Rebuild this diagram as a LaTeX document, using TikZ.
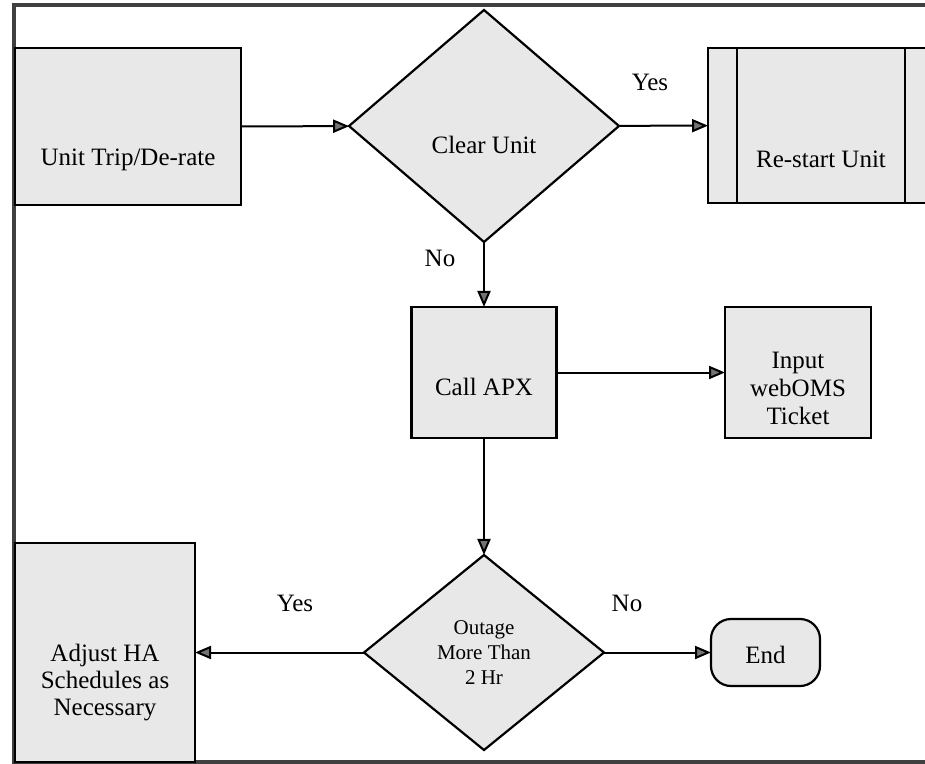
\documentclass[tikz,border=0pt]{standalone}
\usepackage{fontspec}
\setmainfont{Liberation Serif}
\usetikzlibrary{shapes.geometric,arrows.meta}
\tikzset{
  shapebox/.style={draw=black, line width=1.1pt, fill=black!9, inner sep=0pt, outer sep=0pt},
  procbox/.style={shapebox, rectangle},
  decbox/.style={shapebox, diamond},
  termbox/.style={shapebox, rectangle, rounded corners=10pt},
  txt/.style={font=\fontsize{12.5}{14}\selectfont, align=center, inner sep=0pt},
  smalltxt/.style={font=\fontsize{10.5}{12.5}\selectfont, align=center, inner sep=0pt},
  flow/.style={draw=black, line width=1pt, -{Triangle[length=8pt,width=6.5pt,fill=black!55]}},
  framebox/.style={draw=black!75, line width=1.8pt},
  edgelbl/.style={font=\fontsize{12.5}{14}\selectfont, inner sep=0pt}
}
\begin{document}
\begin{tikzpicture}[x=0.5pt,y=-0.5pt]
\useasboundingbox (0,0) rectangle (925,764);
\clip (0,0) rectangle (925,764);
\fill[white] (0,0) rectangle (925,764);
\draw[framebox] (14,5) rectangle (980,762);

\node[procbox, minimum width=113pt, minimum height=78.5pt,
  label={[txt,yshift=-16.5pt]center:Unit Trip/De-rate}] (trip) at (128,126.5) {};
\node[decbox, minimum width=135pt, minimum height=116pt,
  label={[txt,yshift=-9.5pt]center:Clear Unit}] (d1) at (484,126) {};
\node[procbox, minimum width=113pt, minimum height=77.5pt,
  label={[txt,yshift=-17pt]center:Re-start Unit}] (restart) at (821,125.5) {};
\draw[line width=1.1pt] ([xshift=14.5pt]restart.north west) -- ([xshift=14.5pt]restart.south west);
\draw[line width=1.1pt] ([xshift=-14.5pt]restart.north east) -- ([xshift=-14.5pt]restart.south east);
\node[procbox, minimum width=72.5pt, minimum height=65.5pt,
  label={[txt,yshift=-7pt]center:Call APX}] (apx) at (484,372.5) {};
\node[procbox, minimum width=73pt, minimum height=65.5pt,
  label={[txt,yshift=-8pt]center:Input\\webOMS\\Ticket}] (input) at (798,372.5) {};
\node[decbox, minimum width=120pt, minimum height=97.5pt,
  label={[smalltxt]center:Outage\\More Than\\2 Hr}] (d2) at (484,652.5) {};
\node[procbox, minimum width=90pt, minimum height=109.5pt,
  label={[txt,font=\fontsize{12.5}{13.3}\selectfont,yshift=-15pt]center:Adjust HA\\Schedules as\\Necessary}] (adjust) at (105,652.5) {};
\node[termbox, minimum width=54.5pt, minimum height=33.5pt,
  label={[txt,yshift=-1pt]center:End}] (endn) at (765.5,652.5) {};

\draw[flow] (trip) -- (d1);
\draw[flow] (d1) -- (restart);
\draw[flow] (d1) -- (apx);
\draw[flow] (apx) -- (input);
\draw[flow] (apx) -- (d2);
\draw[flow] (d2) -- (adjust);
\draw[flow] (d2) -- (endn);

\node[edgelbl] (yes1) at (650,82) {Yes};
\node[edgelbl] (no1) at (440,258) {No};
\node[edgelbl] (yes2) at (295,603) {Yes};
\node[edgelbl] (no2) at (627,603) {No};
\end{tikzpicture}
\end{document}
